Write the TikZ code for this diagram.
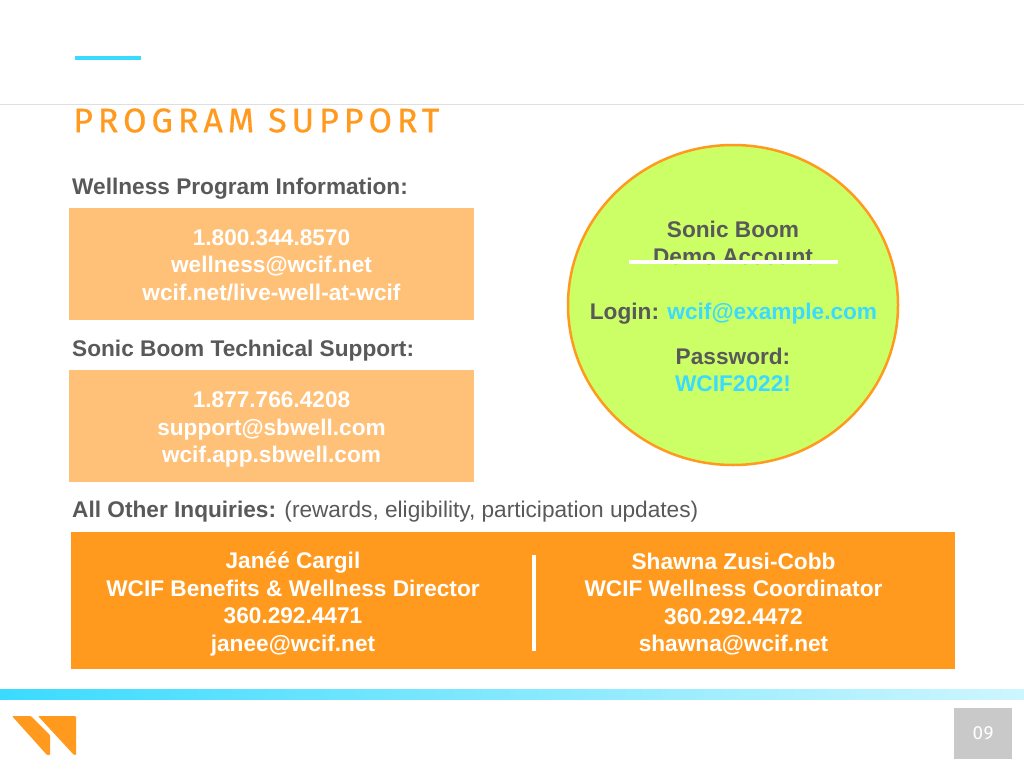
\documentclass[tikz,border=0pt]{standalone}
\usepackage{fontspec}
\setmainfont{Liberation Sans}
\newfontfamily\titlefont[LetterSpace=14.5,FakeBold=0.5]{Fira Sans}
\newfontfamily\pagefont[LetterSpace=3]{Fira Sans}
\usepackage{tikz}
\usetikzlibrary{shapes.geometric}
\definecolor{textgray}{HTML}{595959}
\definecolor{skyblue}{HTML}{3ADBFF}
\definecolor{paleorange}{HTML}{FFC078}
\definecolor{deeporange}{HTML}{FF9A1F}
\definecolor{circlegreen}{HTML}{CCFF66}
\definecolor{pagegray}{HTML}{C9C9C9}
\tikzset{
  heading/.style={anchor=west,inner sep=0pt,text=textgray,font=\fontsize{22.65}{27.4}\selectfont},
  infobox/.style={minimum width=405pt,minimum height=112pt,inner sep=0pt,fill=paleorange},
  contact/.style={align=center,inner sep=0pt,text=white,font=\fontsize{22.65}{27.4}\selectfont\bfseries},
  circletext/.style={align=center,inner sep=0pt,text=textgray,font=\fontsize{22.65}{27.4}\selectfont\bfseries}
}
\begin{document}
\begin{tikzpicture}[x=1pt,y=-1pt]
\useasboundingbox (0,0) rectangle (1024,768);
\fill[white] (0,0) rectangle (1024,768);
% header
\draw[skyblue,line width=3pt] (75,58) -- (141,58);
\draw[gray!25,line width=1pt] (0,104) -- (1024,104);
\node [anchor=west,inner sep=0pt,text=deeporange,font=\titlefont\fontsize{34}{40}\selectfont] (title) at (73,120.5) {PROGRAM SUPPORT};
% left column
\node [heading] (wellness) at (72,189) {\textbf{Wellness Program Information:}};
\node [infobox] (wellnessbox) at (271.5,264) {};
\node [contact] (wellnessinfo) at (271.5,265) {1.800.344.8570\\wellness@wcif.net\\wcif.net/live-well-at-wcif};
\node [heading] (technical) at (72,351) {\textbf{Sonic Boom Technical Support:}};
\node [infobox] (technicalbox) at (271.5,426) {};
\node [contact] (technicalinfo) at (271.5,429.5) {1.877.766.4208\\support@sbwell.com\\wcif.app.sbwell.com};
% demo account
\node [ellipse,draw=deeporange,line width=2.5pt,fill=circlegreen,minimum width=330pt,minimum height=320pt,inner sep=0pt] (demo) at (733,305) {};
\node [circletext] (demoname) at (733,243) {Sonic Boom\\Demo Account};
\draw[white,line width=4pt] (629,262) -- (838,262);
\node [circletext] (login) at (733.5,314) {Login: \textcolor{skyblue}{wcif@example.com}};
\node [circletext] (password) at (733,370) {Password:\\\textcolor{skyblue}{WCIF2022!}};
% other inquiries
\node [heading] (inquiries) at (72,512) {\textbf{All Other Inquiries:} (rewards, eligibility, participation updates)};
\node [minimum width=884pt,minimum height=137pt,inner sep=0pt,fill=deeporange] (inquirybox) at (513,600.5) {};
\node [contact] (janee) at (293,604) {Janéé Cargil\\WCIF Benefits \& Wellness Director\\360.292.4471\\janee@wcif.net};
\node [contact] (shawna) at (733.5,604) {Shawna Zusi-Cobb\\WCIF Wellness Coordinator\\360.292.4472\\shawna@wcif.net};
\draw[white,line width=4pt] (534,555) -- (534,651);
% footer
\shade[left color=skyblue,right color=skyblue!25] (0,689) rectangle (1024,699);
\fill[deeporange,rounded corners=1pt] (12,716) -- (31,716) -- (50,735) -- (50,755) -- (47,755) -- cycle;
\fill[deeporange,rounded corners=1pt] (38,716) -- (76,716) -- (76,755) -- (74,755) -- cycle;
\node [minimum width=58pt,minimum height=51pt,inner sep=0pt,fill=pagegray,text=white,font=\pagefont\fontsize{19}{20}\selectfont] (pagenum) at (983,733.5) {09};
\end{tikzpicture}
\end{document}
